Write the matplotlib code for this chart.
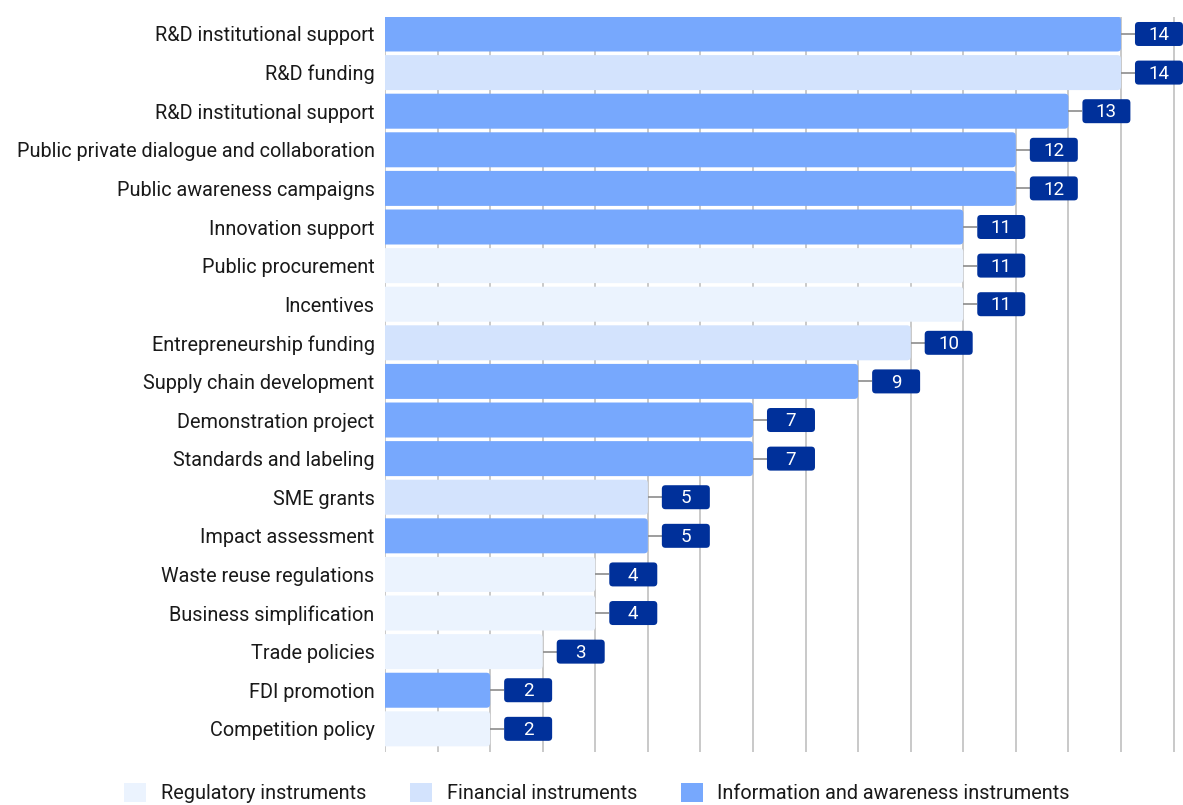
import matplotlib
matplotlib.use("Agg")
import matplotlib.pyplot as plt
from matplotlib.patches import FancyBboxPatch, Patch

plt.rcParams['font.family'] = ['Roboto', 'DejaVu Sans']

# policy instruments, counts and instrument type
categories = [
    "R&D institutional support", "R&D funding", "R&D institutional support",
    "Public private dialogue and collaboration", "Public awareness campaigns",
    "Innovation support", "Public procurement", "Incentives",
    "Entrepreneurship funding", "Supply chain development",
    "Demonstration project", "Standards and labeling", "SME grants",
    "Impact assessment", "Waste reuse regulations", "Business simplification",
    "Trade policies", "FDI promotion", "Competition policy",
]
counts = [14, 14, 13, 12, 12, 11, 11, 11, 10, 9, 7, 7, 5, 5, 4, 4, 3, 2, 2]
kinds = ["info", "fin", "info", "info", "info", "info", "reg", "reg", "fin",
         "info", "info", "info", "fin", "info", "reg", "reg", "reg", "info", "reg"]

legendNames = {"reg": "Regulatory instruments",
               "fin": "Financial instruments",
               "info": "Information and awareness instruments"}
colors = {"reg": "#EBF3FE", "fin": "#D3E3FD", "info": "#77A8FD"}
navy = "#00309A"

W, H = 1183, 805
fig = plt.figure(figsize=(W / 100, H / 100), dpi=100)
top_px, bot_px = 17, 752
ax = fig.add_axes([385 / W, 1 - bot_px / H, 1 - 385 / W, (bot_px - top_px) / H])

xmax = 15.18
ax.set_xlim(0, xmax)
ax.set_ylim(18.6, -0.44)

# vertical grid lines at every step
for v in range(0, 16):
    ax.axvline(v, color="#C9C9C9", lw=1.4, zorder=0)

xpp = xmax / (W - 385)            # data units per pixel, x
ypp = (18.6 + 0.44) / (bot_px - top_px)   # data units per pixel, y
asp = ypp / xpp

barH = 35 * ypp
for i, (c, k) in enumerate(zip(counts, kinds)):
    bar = FancyBboxPatch((-0.3, i - barH / 2), c + 0.3, barH,
                         boxstyle="round,pad=0,rounding_size=0.07",
                         mutation_aspect=asp, fc=colors[k], ec="none", zorder=2)
    ax.add_patch(bar)

    # value tag with connector
    gap = 14 * xpp
    bw = 48 * xpp
    bh = 24 * ypp
    ax.plot([c, c + gap], [i, i], color="#8C8C8C", lw=1.2, zorder=3,
            solid_capstyle="butt")
    tag = FancyBboxPatch((c + gap, i - bh / 2), bw, bh,
                         boxstyle="round,pad=0,rounding_size=0.07",
                         mutation_aspect=asp, fc=navy, ec="none", zorder=4,
                         clip_on=False)
    ax.add_patch(tag)
    ax.text(c + gap + bw / 2, i + 0.03, str(c), color="white", fontsize=13.5,
            ha="center", va="center", zorder=5)

ax.set_yticks(range(len(categories)))
ax.set_yticklabels(categories, fontsize=14.3, color="#1A1A1A")
ax.tick_params(axis="y", length=0, pad=7.5)
ax.set_xticks([])
for s in ax.spines.values():
    s.set_visible(False)

handles = [Patch(fc=colors[k], ec="none", label=legendNames[k]) for k in ["reg", "fin", "info"]]
fig.legend(handles=handles, loc="center", bbox_to_anchor=(597 / W, 1 - 793 / H), ncol=3,
           frameon=False, fontsize=14.3, handlelength=1.1, handleheight=1.1,
           columnspacing=2.2, handletextpad=0.75, labelcolor="#1A1A1A")

fig.savefig("out.png", dpi=100)
